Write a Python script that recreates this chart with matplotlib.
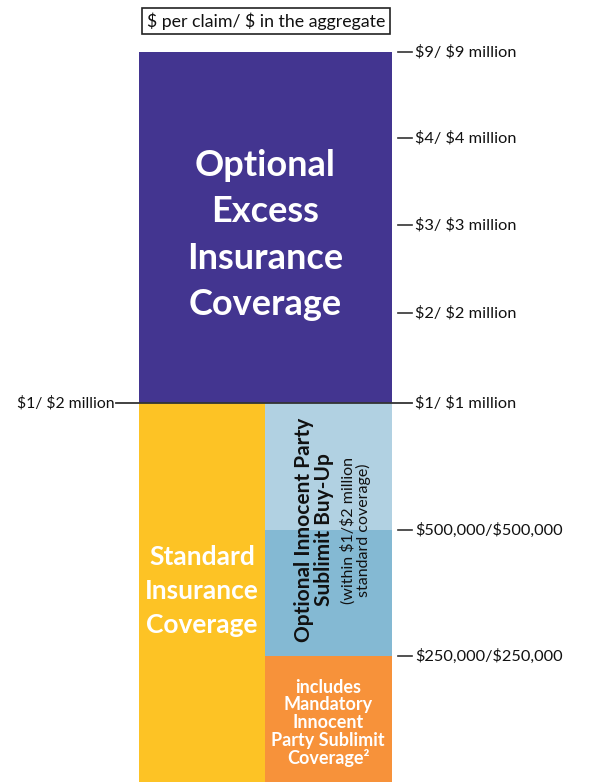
import numpy as np
import matplotlib
matplotlib.use("Agg")
import matplotlib.pyplot as plt

plt.rcParams['font.family'] = ['Lato', 'DejaVu Sans']
plt.rcParams['text.parse_math'] = False

# limit levels ($ per claim) and their labels
levels = [0, 250000, 500000, 1000000, 2000000, 3000000, 4000000, 9000000]
right_labels = ['$9/ $9 million', '$4/ $4 million', '$3/ $3 million', '$2/ $2 million',
                '$1/ $1 million', '$500,000/$500,000', '$250,000/$250,000']
right_values = [9000000, 4000000, 3000000, 2000000, 1000000, 500000, 250000]
left_label = '$1/ $2 million'
left_value = 1000000

# coverage blocks: (name, bottom, top, column)
block_names = ['Standard', 'Excess', 'Mandatory', 'BuyUpLow', 'BuyUpHigh']
block_bottom = [0, 1000000, 0, 250000, 500000]
block_top = [1000000, 9000000, 250000, 500000, 1000000]
block_col = ['left', 'full', 'right', 'right', 'right']
block_color = ['#FDC325', '#433590', '#F7923A', '#84B9D3', '#B1D1E2']

# schematic (non-linear) vertical scale in pixels
pix = [782, 656, 530, 403, 313, 225, 138, 52]
def ypos(v):
    return np.interp(v, levels, pix)

fig = plt.figure(figsize=(5.91, 7.82), dpi=100)
ax = fig.add_axes([0, 0, 1, 1])
ax.set_xlim(0, 591)
ax.set_ylim(782, 0)
ax.axis('off')

cols = {'left': (139, 265), 'full': (139, 392), 'right': (265, 392)}
for b, t, c, col in zip(block_bottom, block_top, block_col, block_color):
    x0, x1 = cols[c]
    ax.bar(x0, ypos(t) - ypos(b), width=x1 - x0, bottom=ypos(b), align='edge',
           color=col, linewidth=0)

# right ticks
for v, lab in zip(right_values, right_labels):
    y = ypos(v)
    if v == 1000000:
        ax.plot([116, 412], [y, y], color='#333333', lw=1.3)
    else:
        ax.plot([398, 412], [y, y], color='#333333', lw=1.2)
    ax.text(415, y, lab, ha='left', va='center', fontsize=11.8, color='#111111')

ax.text(115, ypos(left_value), left_label, ha='right', va='center', fontsize=11.3,
        color='#111111')

# header box
ax.text(266, 21, '$ per claim/ $ in the aggregate', ha='center', va='center',
        fontsize=12.8, color='#111111',
        bbox=dict(boxstyle='square,pad=0.25', fc='white', ec='#222222', lw=1.2))

# block labels
ax.text(265, 235, 'Optional\nExcess\nInsurance\nCoverage', ha='center', va='center',
        color='white', fontsize=26, fontweight='bold', linespacing=1.5)
ax.text(202, 591, 'Standard\nInsurance\nCoverage', ha='center', va='center',
        color='white', fontsize=19, fontweight='bold', linespacing=1.5)
ax.text(314, 530, 'Optional Innocent Party\nSublimit Buy-Up', ha='center', va='center',
        rotation=90, color='#111111', fontsize=15, fontweight='bold', linespacing=1.05)
ax.text(356, 530, '(within $1/$2 million\nstandard coverage)', ha='center', va='center',
        rotation=90, color='#111111', fontsize=11.5, linespacing=1.0)
ax.text(328, 723, 'includes\nMandatory\nInnocent\nParty Sublimit\nCoverage²',
        ha='center', va='center', color='white', fontsize=13, fontweight='bold',
        linespacing=1.05)

fig.savefig('out.png', dpi=100)
